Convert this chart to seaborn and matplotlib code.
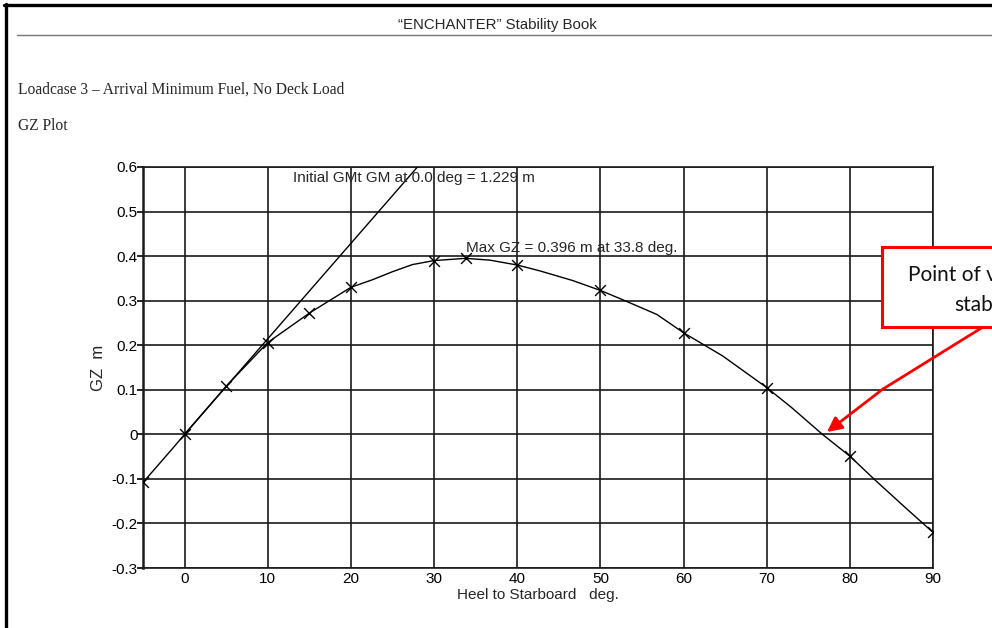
import numpy as np
import pandas as pd
import seaborn as sns
import matplotlib.pyplot as plt
from matplotlib.lines import Line2D
from matplotlib.patches import Rectangle

# GZ curve (heel deg, GZ m)
heel_curve = [-5, -1.5, 0, 5, 10, 15, 20, 22.6, 25, 27.4, 30, 33.8, 36.7, 40,
              42.7, 46.7, 50, 52.7, 56.8, 60, 64.7, 70, 73, 76.7, 80, 83, 87, 90]
gz_curve = [-0.108, -0.033, 0.0, 0.108, 0.206, 0.272, 0.330, 0.347, 0.365,
            0.381, 0.390, 0.395, 0.391, 0.380, 0.367, 0.345, 0.323, 0.302,
            0.269, 0.228, 0.176, 0.105, 0.060, 0.0, -0.049, -0.102, -0.170, -0.220]

# marked points on the curve
heel_marks = [-5, 0, 5, 10, 15, 20, 30, 33.8, 40, 50, 60, 70, 80, 90]
gz_marks = [-0.108, 0.0, 0.108, 0.206, 0.272, 0.330, 0.390, 0.395, 0.380,
            0.323, 0.228, 0.105, -0.049, -0.220]

# initial GM line
gm_heel = [0, 28]
gm_gz = [0, 0.6]

x_ticks = [0, 10, 20, 30, 40, 50, 60, 70, 80, 90]
y_ticks = [-0.3, -0.2, -0.1, 0, 0.1, 0.2, 0.3, 0.4, 0.5, 0.6]
y_tick_labels = ["-0.3", "-0.2", "-0.1", "0", "0.1", "0.2", "0.3", "0.4", "0.5", "0.6"]

sns.set_theme(style="white")
plt.rcParams["font.family"] = ["Liberation Sans", "DejaVu Sans"]

W, H = 992, 628
fig = plt.figure(figsize=(W / 100, H / 100), dpi=100)
ax = fig.add_axes([143 / W, 1 - 568 / H, (933 - 143) / W, (568 - 167) / H])

curve = pd.DataFrame({"heel": heel_curve, "gz": gz_curve})
marks = pd.DataFrame({"heel": heel_marks, "gz": gz_marks})

sns.lineplot(data=curve, x="heel", y="gz", sort=False, color="black", lw=1.0, ax=ax, zorder=3)
sns.lineplot(x=gm_heel, y=gm_gz, color="black", lw=1.0, ax=ax, zorder=3)
sns.scatterplot(data=marks, x="heel", y="gz", marker="x", s=60, color="black",
                linewidth=1.0, ax=ax, zorder=4)

ax.set_xlim(-5, 90)
ax.set_ylim(-0.3, 0.6)
ax.set_xticks(x_ticks)
ax.set_yticks(y_ticks)
ax.set_yticklabels(y_tick_labels)
ax.grid(True, color="#1a1a1a", lw=1.2)
for s in ax.spines.values():
    s.set_color("#1a1a1a")
    s.set_linewidth(1.2)
ax.spines["left"].set_linewidth(1.8)
ax.tick_params(axis="x", length=0, pad=3, labelsize=11, colors="black")
ax.tick_params(axis="y", length=4, width=1.2, pad=0, labelsize=11, colors="black", left=True)

ax.set_xlabel("Heel to Starboard   deg.", fontsize=11, labelpad=1)
ax.set_ylabel("GZ  m", fontsize=12, labelpad=4)

ax.text(13.0, 0.576, "Initial GMt GM at 0.0 deg = 1.229 m", fontsize=11, va="center", ha="left")
ax.text(33.8, 0.419, "Max GZ = 0.396 m at 33.8 deg.", fontsize=11, va="center", ha="left")

# page decoration
fig.add_artist(Line2D([4 / W, 1], [1 - 5 / H, 1 - 5 / H], color="black", lw=2.4))
fig.add_artist(Line2D([5.5 / W, 5.5 / W], [0, 1 - 4 / H], color="black", lw=2.4))
fig.add_artist(Line2D([17 / W, 1], [1 - 35 / H, 1 - 35 / H], color="#777777", lw=1.0))
fig.text(497 / W, 1 - 25 / H, "\u201cENCHANTER\u201d Stability Book", ha="center", va="center",
         fontsize=10.8, family=["Liberation Sans Narrow", "Liberation Sans"])
fig.text(18 / W, 1 - 90 / H, "Loadcase 3 \u2013 Arrival Minimum Fuel, No Deck Load",
         ha="left", va="center", fontsize=11.2, family=["Liberation Serif"])
fig.text(18 / W, 1 - 126 / H, "GZ Plot", ha="left", va="center", fontsize=11.2,
         family=["Liberation Serif"])

# callout (cut off by the page edge, as in the source)
fig.add_artist(Rectangle((882 / W, 1 - 327 / H), 300 / W, 80 / H, facecolor="white",
                         edgecolor="#ff0000", lw=2.2, transform=fig.transFigure, zorder=5))
fig.text(990 / W, 1 - 290 / H, "Point of vanishing\nstability", ha="center", va="center",
         fontsize=15, linespacing=1.6, family=["Lato", "DejaVu Sans"], color="#111111", zorder=6)
fig.add_artist(Line2D([983 / W, 883 / W], [1 - 327 / H, 1 - 389 / H], color="#ff0000", lw=2.0))
ax.annotate("", xy=(827 / W, 1 - 432 / H), xycoords="figure fraction",
            xytext=(883 / W, 1 - 389 / H), textcoords="figure fraction",
            arrowprops=dict(arrowstyle="-|>", color="#ff0000", lw=2.0, mutation_scale=22,
                            shrinkA=0, shrinkB=0), annotation_clip=False)

plt.savefig("out.png", dpi=100)
